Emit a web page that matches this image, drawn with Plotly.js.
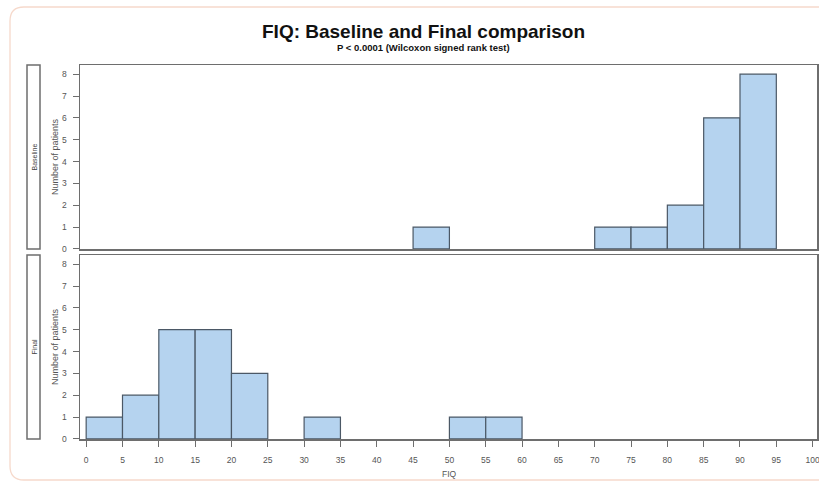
<!DOCTYPE html>
<html>
<head>
<meta charset="utf-8">
<script src="https://cdn.plot.ly/plotly-3.0.1.min.js"></script>
<style>html,body{margin:0;padding:0;background:#fff;}#chart{width:819px;height:485px;}</style>
</head>
<body>
<div id="chart"></div>
<script>
// Histogram bins (FIQ, width 5) and patient counts
const binMids = [2.5, 7.5, 12.5, 17.5, 22.5, 27.5, 32.5, 37.5, 42.5, 47.5,
                 52.5, 57.5, 62.5, 67.5, 72.5, 77.5, 82.5, 87.5, 92.5, 97.5];
const baselineCounts = [0, 0, 0, 0, 0, 0, 0, 0, 0, 1,
                        0, 0, 0, 0, 1, 1, 2, 6, 8, 0];
const finalCounts    = [1, 2, 5, 5, 3, 0, 1, 0, 0, 0,
                        1, 1, 0, 0, 0, 0, 0, 0, 0, 0];
const xTicks = [0,5,10,15,20,25,30,35,40,45,50,55,60,65,70,75,80,85,90,95,100];
const yTicks = [0,1,2,3,4,5,6,7,8];
const panelNames = ['Baseline', 'Final'];

const W = 819, H = 485;
const L = 80, R = 2, T = 65, B = 46;
const pw = W - L - R, ph = H - T - B;
const px = v => (v - L) / pw;
const py = v => (H - B - v) / ph;

const barColor = '#b5d3ef';
const barLine = '#4b5866';
const frameGray = '#6e6e6e';
const FONT = 'Liberation Sans, Arial, sans-serif';

function barTrace(counts, xa, ya) {
  return {
    type: 'bar', x: binMids, y: counts, width: 5,
    xaxis: xa, yaxis: ya,
    marker: {color: barColor, line: {color: barLine, width: counts.map(c => c > 0 ? 1.2 : 0)}},
    hoverinfo: 'x+y', showlegend: false
  };
}

const data = [barTrace(baselineCounts, 'x', 'y'), barTrace(finalCounts, 'x2', 'y2')];

const tickFont = {family: FONT, size: 8.5, color: '#555'};
const xRange = [-0.85, 100.6];
const yRange = [-0.005, 8.42];

const commonAxis = {
  showline: true, mirror: true, linecolor: frameGray, linewidth: 1.5,
  showgrid: false, zeroline: false, ticks: 'outside', ticklen: 6,
  tickcolor: frameGray, tickwidth: 1, tickfont: tickFont,
  ticklabeloverflow: 'allow'
};

const topDomain = [py(249), 1];
const botDomain = [0, py(255)];

const shapes = [];
const annotations = [];

// strip boxes and labels
[['y', panelNames[0]], ['y2', panelNames[1]]].forEach(([ya, name]) => {
  shapes.push({type: 'rect', xref: 'paper', yref: ya + ' domain',
    x0: px(27), x1: px(40), y0: 0, y1: 1,
    line: {color: frameGray, width: 1.5}, fillcolor: 'rgba(0,0,0,0)'});
  annotations.push({xref: 'paper', yref: ya + ' domain', x: px(33.5), y: 0.5,
    xanchor: 'center', yanchor: 'middle',
    text: name, showarrow: false, textangle: -90,
    font: {family: FONT, size: 7, color: '#444'}});
  annotations.push({xref: 'paper', yref: ya + ' domain', x: px(55), y: 0.5,
    xanchor: 'center', yanchor: 'middle',
    text: 'Number of patients', showarrow: false, textangle: -90,
    font: {family: FONT, size: 9, color: '#555'}});
});

// outer rounded frame
(function() {
  const x0 = 10, y0 = 7, x1 = 832, y1 = 480, r = 14;
  const P = (a, b) => px(a) + ',' + py(b);
  const path = 'M ' + P(x0 + r, y0) + ' L ' + P(x1, y0) + ' L ' + P(x1, y1) +
    ' L ' + P(x0 + r, y1) + ' Q ' + P(x0, y1) + ' ' + P(x0, y1 - r) +
    ' L ' + P(x0, y0 + r) + ' Q ' + P(x0, y0) + ' ' + P(x0 + r, y0) + ' Z';
  shapes.push({type: 'path', xref: 'paper', yref: 'paper', path: path,
    line: {color: '#f6d9cb', width: 1.3}, fillcolor: 'rgba(0,0,0,0)', layer: 'below'});
})();

// titles
annotations.push({xref: 'paper', yref: 'paper', x: px(423), y: py(31), xanchor: 'center', yanchor: 'middle',
  text: '<b>FIQ: Baseline and Final comparison</b>', showarrow: false,
  font: {family: FONT, size: 19, color: '#111'}});
annotations.push({xref: 'paper', yref: 'paper', x: px(423), y: py(47), xanchor: 'center', yanchor: 'middle',
  text: '<b>P < 0.0001 (Wilcoxon signed rank test)</b>', showarrow: false,
  font: {family: FONT, size: 9.5, color: '#111'}});
annotations.push({xref: 'paper', yref: 'paper', x: px(449), y: py(474), xanchor: 'center', yanchor: 'middle',
  text: 'FIQ', showarrow: false,
  font: {family: FONT, size: 8.5, color: '#555'}});

const layout = {
  width: W, height: H,
  margin: {l: L, r: R, t: T, b: B, pad: 0},
  paper_bgcolor: '#fff', plot_bgcolor: '#fff',
  bargap: 0, showlegend: false,
  xaxis: Object.assign({}, commonAxis, {anchor: 'y', range: xRange, tickvals: xTicks,
    showticklabels: false, ticks: '', domain: [0, 1]}),
  yaxis: Object.assign({}, commonAxis, {anchor: 'x', domain: topDomain, range: yRange, tickvals: yTicks,
    ticklabelstandoff: 4}),
  xaxis2: Object.assign({}, commonAxis, {anchor: 'y2', range: xRange, tickvals: xTicks, domain: [0, 1],
    ticklabelstandoff: 6}),
  yaxis2: Object.assign({}, commonAxis, {anchor: 'x2', domain: botDomain, range: yRange, tickvals: yTicks,
    ticklabelstandoff: 4}),
  shapes: shapes, annotations: annotations
};

Plotly.newPlot('chart', data, layout, {displayModeBar: false, staticPlot: true});
</script>
</body>
</html>
